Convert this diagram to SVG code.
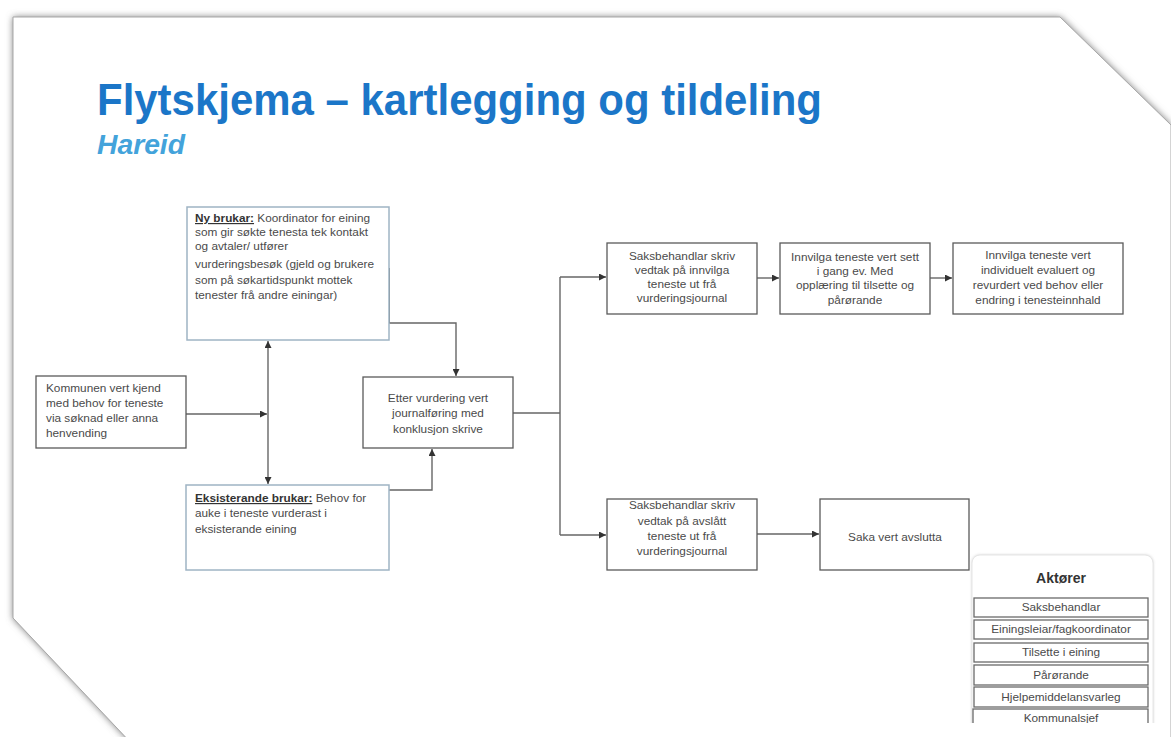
<svg xmlns="http://www.w3.org/2000/svg" width="1171" height="737" viewBox="0 0 1171 737">
<defs>
<style>
.nd{fill:#fff;stroke:#5a5a5a;stroke-width:1.3}
.nb{fill:#fff;stroke:#9fb4c4;stroke-width:1.5}
.t{font-family:"Liberation Sans",Arial,sans-serif;font-size:11.8px;fill:#4a4a4a}
.c{text-anchor:middle}
.u{text-decoration:underline;font-weight:bold;fill:#333}
.cn{fill:none;stroke:#666;stroke-width:1.4}
.it{fill:#fff;stroke:#6a6a6a;stroke-width:1.3}
.itx{font-family:"Liberation Sans",Arial,sans-serif;font-size:11.8px;fill:#4a4a4a;text-anchor:middle}
</style>
<marker id="ah" markerWidth="7" markerHeight="7" refX="7" refY="3.5" orient="auto" markerUnits="userSpaceOnUse">
<path d="M0,0 L7,3.5 L0,7 z" fill="#333"/>
</marker>
<marker id="as" markerWidth="7" markerHeight="7" refX="0" refY="3.5" orient="auto" markerUnits="userSpaceOnUse">
<path d="M7,0 L0,3.5 L7,7 z" fill="#333"/>
</marker>
<filter id="sh" x="-5%" y="-5%" width="110%" height="110%">
<feGaussianBlur stdDeviation="3.5"/>
</filter>
<filter id="sh2" x="-10%" y="-10%" width="120%" height="120%">
<feGaussianBlur stdDeviation="1.5"/>
</filter>
<clipPath id="pc"><rect x="960" y="540" width="211" height="183"/></clipPath>
</defs>
<rect width="1171" height="737" fill="#fff"/>
<g id="page">
<polygon points="13,17 1060,17 1171,125 1171,745 133,745 13,618" fill="#7a7a7a" filter="url(#sh)"/>
<polygon points="13,17 1060,17 1171,125 1171,745 133,745 13,618" fill="#fff" stroke="#a8a8a8" stroke-width="1"/>
</g>
<g id="title">
<text x="97" y="115" font-family="Liberation Sans,Arial,sans-serif" font-size="44" font-weight="bold" fill="#1b76c8" textLength="725" lengthAdjust="spacingAndGlyphs">Flytskjema – kartlegging og tildeling</text>
<text x="97" y="154" font-family="Liberation Sans,Arial,sans-serif" font-size="28" font-weight="bold" font-style="italic" fill="#43a3db" textLength="88" lengthAdjust="spacingAndGlyphs">Hareid</text>
</g>
<g id="connectors">
<path class="cn" d="M186,414 H267" marker-end="url(#ah)"/>
<path class="cn" d="M268,341 V484" marker-start="url(#as)" marker-end="url(#ah)"/>
<path class="cn" d="M389,323 H456 V376" marker-end="url(#ah)"/>
<path d="M389,268 V323" stroke="#444" stroke-width="1.6" fill="none"/>
<path class="cn" d="M389,490 H432 V449" marker-end="url(#ah)"/>
<path class="cn" d="M513,413 H560"/>
<path class="cn" d="M560,277 V535"/>
<path class="cn" d="M560,277 H606" marker-end="url(#ah)"/>
<path class="cn" d="M560,535 H606" marker-end="url(#ah)"/>
<path class="cn" d="M757,278 H779" marker-end="url(#ah)"/>
<path class="cn" d="M930,278 H952" marker-end="url(#ah)"/>
<path class="cn" d="M757,534 H819" marker-end="url(#ah)"/>
</g>
<g id="n-kommunen">
<rect class="nd" x="36" y="376" width="150" height="72"/>
<text class="t" x="46" y="392">Kommunen vert  kjend</text>
<text class="t" x="46" y="407">med behov  for teneste</text>
<text class="t" x="46" y="422">via søknad eller anna</text>
<text class="t" x="46" y="437">henvending</text>
</g>
<g id="n-nybrukar">
<rect class="nb" x="187" y="207" width="202" height="133"/>
<text class="t" x="195" y="222"><tspan class="u">Ny brukar:</tspan> Koordinator for eining</text>
<text class="t" x="195" y="236">som gir søkte tenesta tek kontakt</text>
<text class="t" x="195" y="250">og avtaler/ utfører</text>
<text class="t" x="195" y="268">vurderingsbesøk  (gjeld og brukere</text>
<text class="t" x="195" y="284">som på søkartidspunkt mottek</text>
<text class="t" x="195" y="299">tenester frå andre einingar)</text>
</g>
<g id="n-eksisterande">
<rect class="nb" x="186" y="485" width="203" height="85"/>
<text class="t" x="195" y="502"><tspan class="u">Eksisterande brukar:</tspan> Behov for</text>
<text class="t" x="195" y="517">auke i teneste vurderast  i</text>
<text class="t" x="195" y="533">eksisterande eining</text>
</g>
<g id="n-etter">
<rect class="nd" x="363" y="377" width="150" height="71"/>
<text class="t c" x="438" y="402">Etter vurdering  vert</text>
<text class="t c" x="438" y="417">journalføring  med</text>
<text class="t c" x="438" y="433">konklusjon skrive</text>
</g>
<g id="n-vedtak-innvilga">
<rect class="nd" x="607" y="243" width="150" height="71"/>
<text class="t c" x="682" y="260">Saksbehandlar  skriv</text>
<text class="t c" x="682" y="274">vedtak  på innvilga</text>
<text class="t c" x="682" y="288">teneste ut frå</text>
<text class="t c" x="682" y="302">vurderingsjournal</text>
</g>
<g id="n-igang">
<rect class="nd" x="780" y="243" width="150" height="71"/>
<text class="t c" x="855" y="261">Innvilga  teneste vert  sett</text>
<text class="t c" x="855" y="275">i gang ev.  Med</text>
<text class="t c" x="855" y="289">opplæring  til tilsette og</text>
<text class="t c" x="855" y="304">pårørande</text>
</g>
<g id="n-evaluert">
<rect class="nd" x="953" y="243" width="170" height="71"/>
<text class="t c" x="1038" y="259">Innvilga  teneste vert</text>
<text class="t c" x="1038" y="274">individuelt  evaluert  og</text>
<text class="t c" x="1038" y="289">revurdert  ved behov eller</text>
<text class="t c" x="1038" y="304">endring  i tenesteinnhald</text>
</g>
<g id="n-vedtak-avslatt">
<rect class="nd" x="607" y="499" width="150" height="71"/>
<text class="t c" x="682" y="509">Saksbehandlar  skriv</text>
<text class="t c" x="682" y="525">vedtak  på avslått</text>
<text class="t c" x="682" y="540">teneste ut frå</text>
<text class="t c" x="682" y="555">vurderingsjournal</text>
</g>
<g id="n-avslutta">
<rect class="nd" x="820" y="499" width="149" height="71"/>
<text class="t c" x="895" y="541">Saka vert  avslutta</text>
</g>
<g id="aktorer" clip-path="url(#pc)">
<rect x="972" y="555" width="181" height="190" rx="8" fill="#ccc" filter="url(#sh2)"/>
<rect x="972" y="555" width="181" height="190" rx="8" fill="#fff" stroke="#e6e6e6"/>
<text x="1061" y="583" font-family="Liberation Sans,Arial,sans-serif" font-size="14" font-weight="bold" fill="#333" text-anchor="middle">Aktører</text>
<rect class="it" x="974" y="598" width="174" height="19"/>
<text class="itx" x="1061" y="611">Saksbehandlar</text>
<rect class="it" x="974" y="620" width="174" height="19"/>
<text class="itx" x="1061" y="633">Einingsleiar/fagkoordinator</text>
<rect class="it" x="974" y="643" width="174" height="19"/>
<text class="itx" x="1061" y="656">Tilsette i eining</text>
<rect class="it" x="974" y="665" width="174" height="20"/>
<text class="itx" x="1061" y="679">Pårørande</text>
<rect class="it" x="974" y="687" width="174" height="20"/>
<text class="itx" x="1061" y="701">Hjelpemiddelansvarleg</text>
<rect class="it" x="973" y="709" width="175" height="24"/>
<text class="itx" x="1061" y="722">Kommunalsjef</text>
</g>
</svg>
